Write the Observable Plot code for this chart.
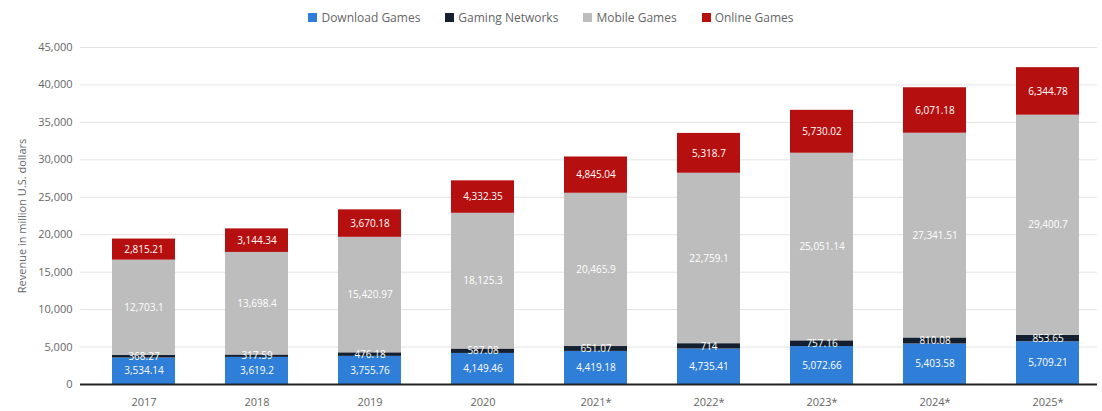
<!DOCTYPE html>
<html>
<head>
<meta charset="utf-8">
<script src="https://cdn.jsdelivr.net/npm/d3@7"></script>
<script src="https://cdn.jsdelivr.net/npm/@observablehq/plot@0.6"></script>
<style>
  html, body { margin: 0; padding: 0; background: #fff; }
  body { width: 1102px; height: 411px; overflow: hidden; font-family: "Open Sans", "Noto Sans", sans-serif; }
  #legend { height: 35px; display: flex; justify-content: center; align-items: center; gap: 25px; font-size: 12px; color: #666; box-sizing: border-box; }
  #legend span.item { display: inline-flex; align-items: center; gap: 4px; }
  #legend span.sw { width: 9px; height: 9px; display: inline-block; }
</style>
</head>
<body>
<div id="legend"></div>
<div id="chart"></div>
<script>
const years = ["2017", "2018", "2019", "2020", "2021*", "2022*", "2023*", "2024*", "2025*"];
const seriesNames = ["Download Games", "Gaming Networks", "Mobile Games", "Online Games"];
const seriesColors = ["#2f7ed8", "#14202f", "#bdbdbd", "#b5100f"];
const downloadGames = [3534.14, 3619.2, 3755.76, 4149.46, 4419.18, 4735.41, 5072.66, 5403.58, 5709.21];
const gamingNetworks = [368.27, 317.59, 476.18, 587.08, 651.07, 714, 757.16, 810.08, 853.65];
const mobileGames = [12703.1, 13698.4, 15420.97, 18125.3, 20465.9, 22759.1, 25051.14, 27341.51, 29400.7];
const onlineGames = [2815.21, 3144.34, 3670.18, 4332.35, 4845.04, 5318.7, 5730.02, 6071.18, 6344.78];
const yTicks = [0, 5000, 10000, 15000, 20000, 25000, 30000, 35000, 40000, 45000];

const seriesValues = [downloadGames, gamingNetworks, mobileGames, onlineGames];
const data = [];
seriesNames.forEach((s, si) => {
  years.forEach((y, yi) => data.push({year: y, series: s, value: seriesValues[si][yi]}));
});

// legend
const legend = document.getElementById("legend");
seriesNames.forEach((s, i) => {
  const it = document.createElement("span");
  it.className = "item";
  const sw = document.createElement("span");
  sw.className = "sw";
  sw.style.background = seriesColors[i];
  it.appendChild(sw);
  it.appendChild(document.createTextNode(s));
  legend.appendChild(it);
});

const fmt = d3.format(",");

const chart = Plot.plot({
  width: 1102,
  height: 376,
  marginTop: 12,
  marginBottom: 27,
  marginLeft: 80,
  marginRight: 5,
  style: {fontFamily: "'Open Sans', 'Noto Sans', sans-serif", fontSize: "11px", color: "#666"},
  x: {domain: years, paddingInner: 0.44, paddingOuter: 0.208, align: 0.64, label: null, tickSize: 0, tickPadding: 14},
  y: {domain: [0, 45000], ticks: yTicks, tickFormat: d => d3.format(",")(d), label: "Revenue in million U.S. dollars", labelAnchor: "center", labelArrow: "none", labelOffset: 62, tickSize: 0, tickPadding: 8},
  color: {domain: seriesNames, range: seriesColors},
  marks: [
    Plot.ruleY(yTicks.filter(d => d > 0), {stroke: "#e3e3e3", strokeWidth: 1}),
    Plot.barY(data, {x: "year", y: "value", fill: "series", order: seriesNames}),
    Plot.text(data, Plot.stackY({x: "year", y: "value", z: "series", order: seriesNames, text: d => fmt(d.value), fill: "white", fontSize: 10})),
    Plot.ruleY([0], {stroke: "#222", strokeWidth: 2})
  ]
});
document.getElementById("chart").appendChild(chart);
</script>
</body>
</html>
